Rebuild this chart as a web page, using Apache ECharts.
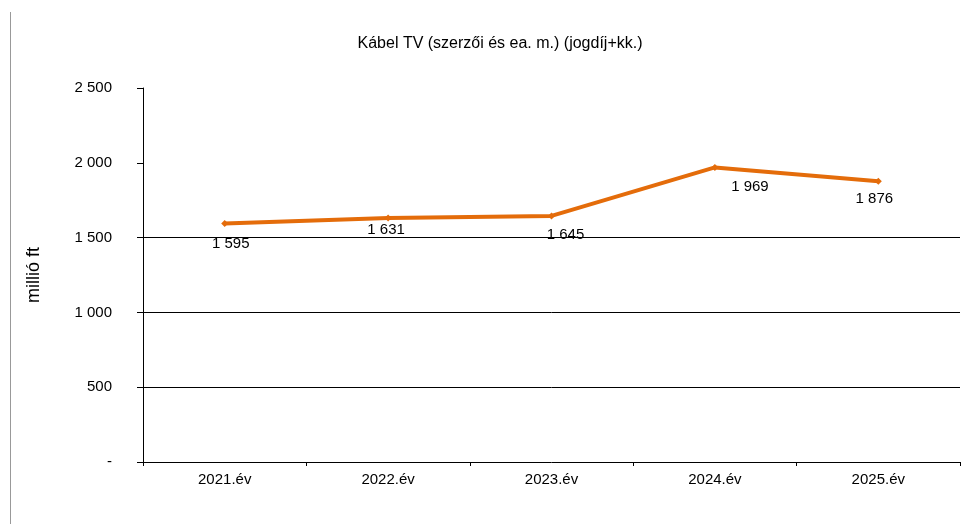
<!DOCTYPE html>
<html>
<head>
<meta charset="utf-8">
<script src="https://cdn.jsdelivr.net/npm/echarts@6/dist/echarts.min.js"></script>
<style>
  html, body { margin: 0; padding: 0; background: #fff; }
  #chart { width: 966px; height: 524px; }
</style>
</head>
<body>
<div id="chart"></div>
<script>
  // data
  var categories = ['2021.év', '2022.év', '2023.év', '2024.év', '2025.év']
  var values = [1595, 1631, 1645, 1969, 1876]
  // label nudges so the numbers sit like in the original
  var labelOffsets = [[6, 3], [-2, -5], [14, 2], [35, 2], [-4, 1]]

  var fmt = function (v) {
    if (v === 0) return '-'
    return String(v).replace(/\B(?=(\d{3})+(?!\d))/g, ' ')
  }

  var chart = echarts.init(document.getElementById('chart'))
  var font = '"Liberation Sans", Arial, sans-serif'

  chart.setOption({
    animation: false,
    textStyle: { fontFamily: font },
    title: {
      text: 'Kábel TV (szerzői és ea. m.) (jogdíj+kk.)',
      left: 495,
      textAlign: 'center',
      top: 31,
      textStyle: { fontSize: 16, fontWeight: 'normal', color: '#000', fontFamily: font }
    },
    graphic: [{
      type: 'line',
      shape: { x1: 10.5, y1: 12, x2: 10.5, y2: 524 },
      style: { stroke: '#999', lineWidth: 1 }
    }],
    grid: { left: 143, right: 6, top: 88, bottom: 62 },
    xAxis: {
      type: 'category',
      data: categories,
      axisLine: { lineStyle: { color: '#000', width: 1 } },
      axisTick: { show: true, length: 4, lineStyle: { color: '#000' } },
      axisLabel: { color: '#000', fontSize: 15, margin: 10, fontFamily: font }
    },
    yAxis: {
      type: 'value',
      min: 0,
      max: 2500,
      interval: 500,
      name: 'millió ft',
      nameLocation: 'middle',
      nameGap: 100,
      nameTextStyle: { fontSize: 18, color: '#000', fontFamily: font },
      axisLine: { show: true, lineStyle: { color: '#000', width: 1 } },
      axisTick: { show: true, length: 6, lineStyle: { color: '#000' } },
      axisLabel: { color: '#000', fontSize: 15, margin: 31, formatter: fmt, fontFamily: font },
      splitLine: {
        show: true,
        lineStyle: { color: ['transparent', '#000', '#000', '#000', 'transparent', 'transparent'], width: 1 }
      }
    },
    series: [{
      type: 'line',
      data: values.map(function (v, i) {
        return { value: v, label: { offset: labelOffsets[i] } }
      }),
      symbol: 'diamond',
      symbolSize: 7,
      itemStyle: { color: '#E46C0A' },
      lineStyle: { color: '#E46C0A', width: 4 },
      label: {
        show: true,
        position: 'bottom',
        distance: 6,
        color: '#000',
        fontSize: 15,
        fontFamily: font,
        formatter: function (p) { return fmt(p.value) }
      }
    }]
  })
</script>
</body>
</html>
